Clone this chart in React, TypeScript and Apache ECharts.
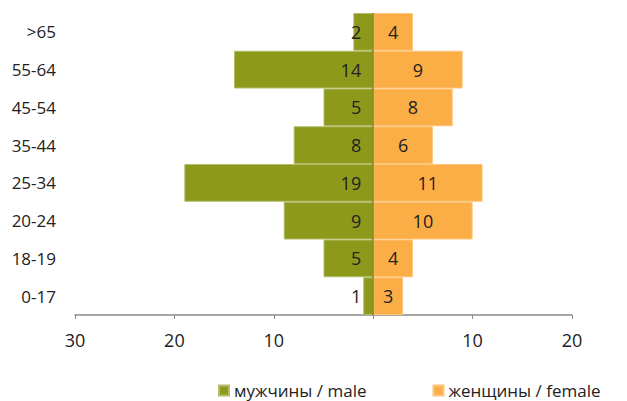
import React, { useEffect, useRef } from "react";
import * as echarts from "echarts";

const categories = ["0-17", "18-19", "20-24", "25-34", "35-44", "45-54", "55-64", ">65"];
const maleValues = [1, 5, 9, 19, 8, 5, 14, 2];
const femaleValues = [3, 4, 10, 11, 6, 8, 9, 4];
const xTicks = [-30, -20, -10, 0, 10, 20];
const seriesNames = ["мужчины / male", "женщины / female"];

export default function App() {
  const ref = useRef<HTMLDivElement>(null);
  useEffect(() => {
    if (!ref.current) return;
    const chart = echarts.init(ref.current, null, { renderer: "svg" });
    const font = "'Open Sans', sans-serif";
    chart.setOption({
      animation: false,
      textStyle: { fontFamily: font },
      grid: { left: 75, right: 55, top: 13, bottom: 86, containLabel: false },
      legend: {
        data: seriesNames,
        top: 377,
        left: 213,
        width: 420,
        itemWidth: 10,
        itemHeight: 10,
        itemGap: 66,
        icon: "rect",
        textStyle: { fontSize: 17, color: "#222", fontFamily: font },
      },
      xAxis: {
        type: "value",
        min: xTicks[0],
        max: xTicks[xTicks.length - 1],
        interval: 10,
        splitLine: { show: false },
        axisLine: { show: true, lineStyle: { color: "#8a8a8a", width: 1.5 } },
        axisTick: { show: true, length: 4, lineStyle: { color: "#8a8a8a" } },
        axisLabel: {
          fontSize: 18,
          color: "#222",
          margin: 16,
          formatter: (v: number) => (v === 0 ? "" : String(Math.abs(v))),
        },
      },
      yAxis: {
        type: "category",
        data: categories,
        axisLine: { show: false, onZero: false },
        axisTick: { show: false },
        axisLabel: { fontSize: 17, color: "#222", margin: 19 },
      },
      series: [
        {
          name: seriesNames[0],
          type: "bar",
          stack: "total",
          barCategoryGap: "0%",
          data: maleValues.map((v) => -v),
          itemStyle: { color: "#8c991a", borderColor: "#b4bc6a", borderWidth: 1 },
          label: {
            show: true,
            position: "insideRight",
            distance: 12,
            fontSize: 18,
            color: "#222",
            formatter: (p: any) => String(Math.abs(p.value)),
          },
        },
        {
          name: seriesNames[1],
          type: "bar",
          stack: "total",
          barCategoryGap: "0%",
          data: femaleValues,
          itemStyle: { color: "#fcae46", borderColor: "#fdc57a", borderWidth: 1 },
          label: {
            show: true,
            position: "inside",
            fontSize: 18,
            color: "#222",
          },
          markLine: {
            silent: true,
            symbol: "none",
            label: { show: false },
            lineStyle: { color: "#7a8316", type: "solid", width: 1.5 },
            data: [{ xAxis: 0 }],
          },
        },
      ],
    });
    return () => chart.dispose();
  }, []);
  return (
    <div
      ref={ref}
      style={{ position: "absolute", left: 0, top: 0, width: 627, height: 401 }}
    />
  );
}
